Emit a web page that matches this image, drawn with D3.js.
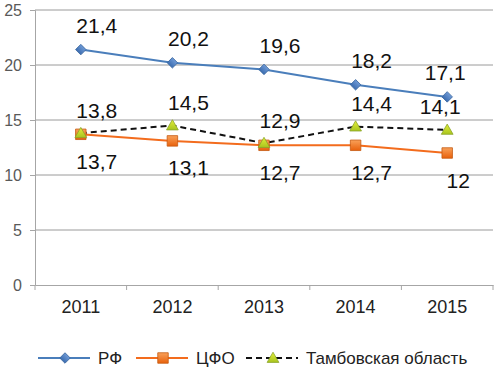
<!DOCTYPE html>
<html>
<head>
<meta charset="utf-8">
<script src="https://cdn.jsdelivr.net/npm/d3@7"></script>
<style>
  body { margin: 0; background: #fff; }
  text { font-family: "Liberation Sans", Arial, sans-serif; }
</style>
</head>
<body>
<div id="container"></div>
<script>
const years = ["2011", "2012", "2013", "2014", "2015"];
const rf = [21.4, 20.2, 19.6, 18.2, 17.1];
const cfo = [13.7, 13.1, 12.7, 12.7, 12.0];
const tambov = [13.8, 14.5, 12.9, 14.4, 14.1];
const yTicks = [0, 5, 10, 15, 20, 25];
const seriesNames = ["РФ", "ЦФО", "Тамбовская область"];

// label text for each point (the chart shows 12 without decimals)
const fmt = v => (Number.isInteger(v) ? String(v) : String(v).replace(".", ","));

const W = 495, H = 378;
const margin = { top: 10, right: 2, bottom: 93, left: 35 };

const svg = d3.select("#container").append("svg")
  .attr("width", W).attr("height", H);

const x = d3.scaleBand().domain(years).range([margin.left, W - margin.right]);
const y = d3.scaleLinear().domain([0, 25]).range([H - margin.bottom, margin.top]);
const cx = d => x(d) + x.bandwidth() / 2;

// grid
svg.append("g").selectAll("line").data(yTicks.filter(t => t > 0)).enter().append("line")
  .attr("x1", margin.left).attr("x2", W - margin.right)
  .attr("y1", d => y(d)).attr("y2", d => y(d))
  .attr("stroke", "#9a9a9a").attr("stroke-width", 1);

// y axis
const yAxis = svg.append("g")
  .attr("transform", `translate(${margin.left},0)`)
  .call(d3.axisLeft(y).tickValues(yTicks).tickSize(5).tickPadding(8).tickFormat(d3.format("d")));
yAxis.select(".domain").attr("stroke", "#a6a6a6");
yAxis.selectAll(".tick line").attr("stroke", "#a6a6a6");
yAxis.selectAll(".tick text").attr("fill", "#595959").style("font-size", "16px");

// x axis
const xAxis = svg.append("g")
  .attr("transform", `translate(0,${y(0)})`)
  .call(d3.axisBottom(x).tickSize(0).tickPadding(15));
xAxis.select(".domain").attr("stroke", "#a6a6a6");
xAxis.selectAll(".tick text").attr("fill", "#222").style("font-size", "18px");
// category boundary ticks
svg.append("g").selectAll("line").data(years.concat(["end"])).enter().append("line")
  .attr("x1", (d, i) => margin.left + i * x.bandwidth())
  .attr("x2", (d, i) => margin.left + i * x.bandwidth())
  .attr("y1", y(0)).attr("y2", y(0) + 5)
  .attr("stroke", "#a6a6a6");

const defs = svg.append("defs");
const grad = (id, c1, c2) => {
  const g = defs.append("linearGradient").attr("id", id).attr("x1", 0).attr("y1", 0).attr("x2", 0).attr("y2", 1);
  g.append("stop").attr("offset", "0%").attr("stop-color", c1);
  g.append("stop").attr("offset", "100%").attr("stop-color", c2);
};
grad("gBlue", "#6f9ad6", "#3c6db0");
grad("gOrange", "#f9a15a", "#e8610c");
grad("gGreen", "#e4ee3a", "#a8c41e");

const line = d3.line().x((d, i) => cx(years[i])).y(d => y(d));

// marker: diamond is a square turned 45 degrees, so it is as wide as it is tall
const series = [
  { name: seriesNames[0], values: rf, color: "#4a7ebb", dash: null, marker: d3.symbolSquare, rot: 45, msize: 55, fill: "url(#gBlue)", edge: "#3a679f", dy: -24, lastDx: -2 },
  { name: seriesNames[1], values: cfo, color: "#f36c1d", dash: null, marker: d3.symbolSquare, rot: 0, msize: 110, fill: "url(#gOrange)", edge: "#c55a11", dy: 27, lastDx: 11 },
  { name: seriesNames[2], values: tambov, color: "#111", dash: "6,4", marker: d3.symbolTriangle, rot: 0, msize: 60, fill: "url(#gGreen)", edge: "#8aa52a", dy: -23, lastDx: -7 }
];
const markerOffset = s => (s.marker === d3.symbolTriangle ? 1 : 0);

series.forEach(s => {
  svg.append("path").datum(s.values)
    .attr("d", line).attr("fill", "none")
    .attr("stroke", s.color).attr("stroke-width", 2)
    .attr("stroke-dasharray", s.dash);
});

series.forEach(s => {
  svg.append("g").selectAll("path").data(s.values).enter().append("path")
    .attr("d", d3.symbol().type(s.marker).size(s.msize))
    .attr("transform", (d, i) => `translate(${cx(years[i])},${y(d) + markerOffset(s)}) rotate(${s.rot})`)
    .attr("fill", s.fill).attr("stroke", s.edge).attr("stroke-width", 0.8);
});

series.forEach(s => {
  svg.append("g").selectAll("text").data(s.values).enter().append("text")
    .attr("x", (d, i) => cx(years[i]) + (i === years.length - 1 ? s.lastDx : 16))
    .attr("y", d => y(d) + s.dy)
    .attr("text-anchor", "middle")
    .attr("dominant-baseline", "central")
    .attr("fill", "#111")
    .style("font-size", "21px")
    .text(d => fmt(d));
});

// legend
const legendY = 358;
const legendItems = [
  { s: series[0], x0: 38 },
  { s: series[1], x0: 136 },
  { s: series[2], x0: 246 }
];
legendItems.forEach(({ s, x0 }) => {
  const g = svg.append("g");
  g.append("line").attr("x1", x0).attr("x2", x0 + 52)
    .attr("y1", legendY).attr("y2", legendY)
    .attr("stroke", s.color).attr("stroke-width", 2).attr("stroke-dasharray", s.dash);
  g.append("path")
    .attr("d", d3.symbol().type(s.marker).size(s.msize))
    .attr("transform", `translate(${x0 + 27},${legendY + markerOffset(s)}) rotate(${s.rot})`)
    .attr("fill", s.fill).attr("stroke", s.edge).attr("stroke-width", 0.8);
  g.append("text").attr("x", x0 + 60).attr("y", legendY)
    .attr("dominant-baseline", "central")
    .attr("fill", "#222").style("font-size", "17px")
    .text(s.name);
});
</script>
</body>
</html>
